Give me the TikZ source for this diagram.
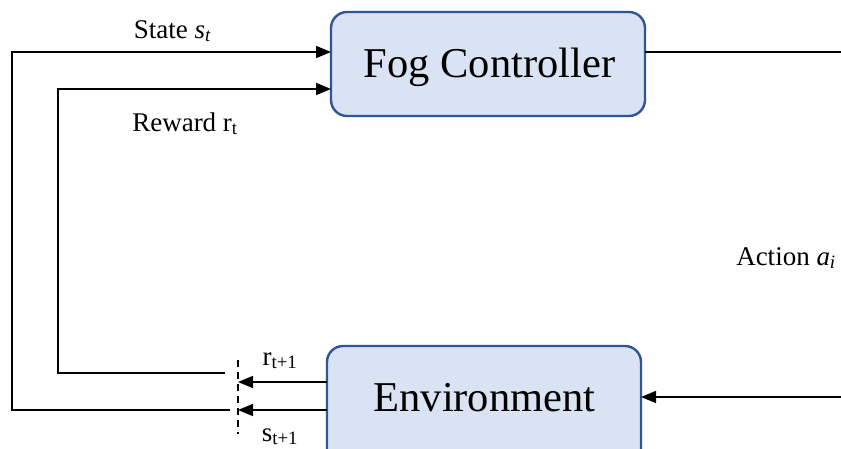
\documentclass[tikz,border=0pt]{standalone}
\usepackage{fontspec}
\setmainfont{Liberation Serif}
\usetikzlibrary{arrows.meta}
\definecolor{boxborder}{RGB}{47,85,151}
\definecolor{boxfill}{RGB}{218,227,243}
\begin{document}
\begin{tikzpicture}[x=1pt,y=-1pt,
  box/.style={draw=boxborder, fill=boxfill, line width=2.4pt, rounded corners=16pt},
  conn/.style={line width=1.6pt, -{Triangle[length=15pt,width=12pt]}},
  plain/.style={line width=1.6pt},
  lbl/.style={inner sep=0pt, anchor=base},
  big/.style={lbl, font=\fontsize{42.5}{42.5}\selectfont},
  small/.style={lbl, font=\fontsize{27}{27}\selectfont}]
\useasboundingbox (0,0) rectangle (841,448);
\draw[box] (331,12) rectangle (645,116);
\draw[box] (327,346) rectangle (641,470);
\node[big] (fog) at (489.5,77) {Fog Controller};
\node[big] (env) at (484.5,411) {Environment};
\coordinate (fogL1) at (331,52);
\coordinate (fogL2) at (331,89);
\coordinate (fogR) at (645,52);
\coordinate (envR) at (641,397);
\coordinate (envL1) at (327,382);
\coordinate (envL2) at (327,410);
\coordinate (dash1) at (238,382);
\coordinate (dash2) at (238,410);
\coordinate (ra) at (225,373);
\coordinate (sa) at (230,410);
\coordinate (rightA) at (841,52);
\coordinate (rightB) at (841,397);
\draw[conn] (sa) -- (12,410) -- (12,52) -- (fogL1);
\draw[conn] (ra) -- (58,373) -- (58,89) -- (fogL2);
\draw[conn] (envL1) -- (dash1);
\draw[conn] (envL2) -- (dash2);
\draw[plain] (fogR) -- (rightA);
\draw[conn] (rightB) -- (envR);
\draw[line width=1.6pt, dash pattern=on 7pt off 5pt] (238,360) -- (238,434);
\node[small] (lstate) at (172.5,38) {State \textit{s}\textsubscript{\textit{t}}};
\node[small] (lreward) at (185,131) {Reward r\textsubscript{t}};
\node[small] (laction) at (786,265) {Action \textit{a}\textsubscript{\textit{i}}};
\node[small] (lr1) at (280,365) {r\textsubscript{t+1}};
\node[small] (ls1) at (280,441) {s\textsubscript{t+1}};
\end{tikzpicture}
\end{document}
